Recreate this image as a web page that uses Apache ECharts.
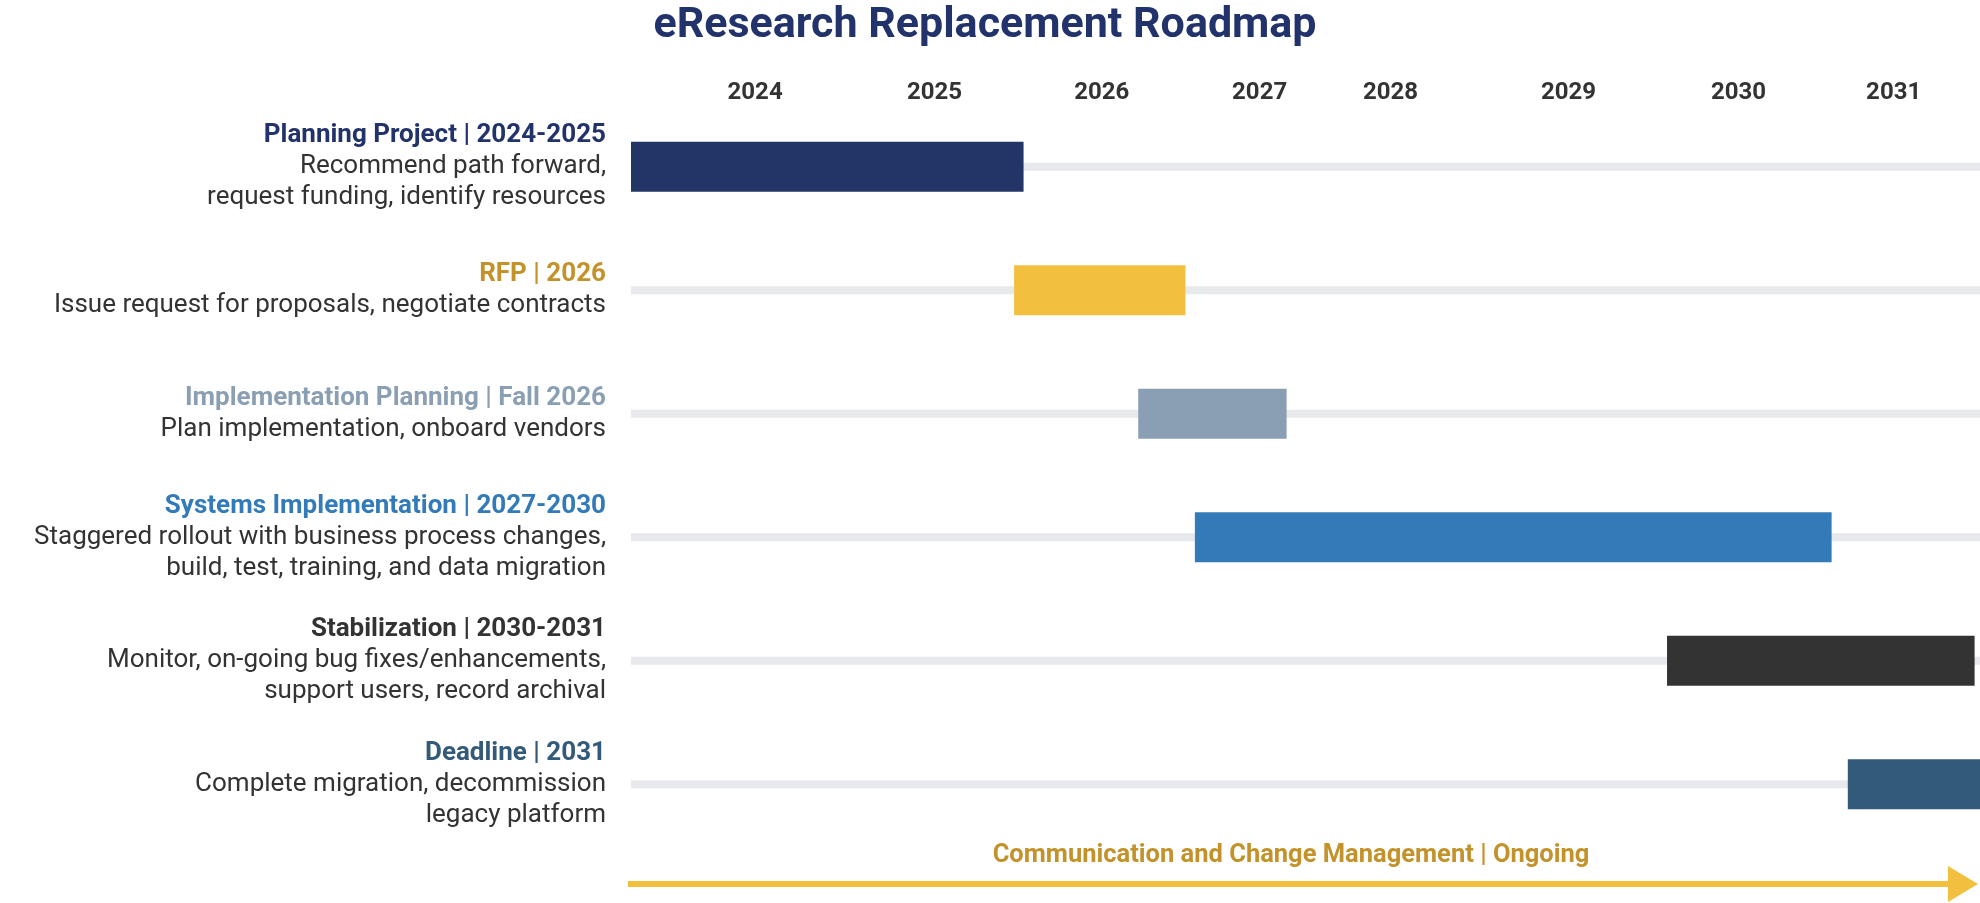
<!DOCTYPE html>
<html>
<head>
<meta charset="utf-8">
<script src="https://cdn.jsdelivr.net/npm/echarts@6/dist/echarts.min.js"></script>
<style>
  html, body { margin: 0; padding: 0; background: #fff; }
  #chart { width: 1980px; height: 903px; }
</style>
</head>
<body>
<div id="chart"></div>
<script>
// timeline runs 0..100 across the plot; years sit at uneven spots like the original
const phases = ['Planning Project | 2024-2025', 'RFP | 2026', 'Implementation Planning | Fall 2026',
  'Systems Implementation | 2027-2030', 'Stabilization | 2030-2031', 'Deadline | 2031'];
const details = [
  ['Recommend path forward,', 'request funding, identify resources'],
  ['Issue request for proposals, negotiate contracts'],
  ['Plan implementation, onboard vendors'],
  ['Staggered rollout with business process changes,', 'build, test, training, and data migration'],
  ['Monitor, on-going bug fixes/enhancements,', 'support users, record archival'],
  ['Complete migration, decommission', 'legacy platform']
];
const starts = [0, 28.4, 37.6, 41.8, 76.8, 90.2];
const ends = [29.1, 41.1, 48.6, 89, 99.6, 100];
const years = ['2024', '2025', '2026', '2027', '2028', '2029', '2030', '2031'];
const yearPos = [9.2, 22.5, 34.9, 46.6, 56.3, 69.5, 82.1, 93.6];
const barColors = ['#233466', '#f3bf3f', '#8a9fb3', '#337ab9', '#333333', '#335a78'];
const titleColors = ['#22336b', '#c4922a', '#8a9fb3', '#337ab9', '#333333', '#335a78'];

const chart = echarts.init(document.getElementById('chart'));

function rangeItem(h) {
  return function (params, api) {
    const cat = api.value(0);
    const s = api.coord([api.value(1), cat]);
    const e = api.coord([api.value(2), cat]);
    const shape = echarts.graphic.clipRectByRect(
      { x: s[0], y: s[1] - h / 2, width: e[0] - s[0], height: h },
      { x: params.coordSys.x, y: params.coordSys.y, width: params.coordSys.width, height: params.coordSys.height }
    );
    return shape && { type: 'rect', shape: shape, style: api.style() };
  };
}

const rich = {};
titleColors.forEach((c, i) => {
  rich['t' + i] = { color: c, fontWeight: 'bold', fontSize: 26, lineHeight: 31, align: 'right', fontFamily: 'Roboto' };
});
rich.d = { color: '#333', fontSize: 26, lineHeight: 31, align: 'right', fontFamily: 'Roboto' };

chart.setOption({
  animation: false,
  title: {
    text: 'eResearch Replacement Roadmap',
    left: 980, top: 0, textAlign: 'center',
    textStyle: { fontFamily: 'Roboto', fontSize: 43, fontWeight: 'bold', color: '#22336b' }
  },
  grid: { left: 631, right: 0, top: 105, bottom: 57 },
  xAxis: {
    type: 'value', position: 'top', min: 0, max: 100,
    splitLine: { show: false }, axisLine: { show: false }, axisTick: { show: false },
    axisLabel: {
      customValues: yearPos, margin: 0,
      formatter: v => years[yearPos.indexOf(v)] || '',
      fontFamily: 'Roboto', fontSize: 24, fontWeight: 'bold', color: '#333'
    }
  },
  yAxis: {
    type: 'category', inverse: true, data: phases,
    axisLine: { show: false }, axisTick: { show: false }, splitLine: { show: false },
    axisLabel: {
      margin: 25, rich: rich,
      formatter: (v, i) => '{t' + i + '|' + v + '}\n' + details[i].map(l => '{d|' + l + '}').join('\n')
    }
  },
  series: [
    {
      type: 'custom', renderItem: rangeItem(8), silent: true,
      itemStyle: { color: '#e8e9ed' },
      encode: { x: [1, 2], y: 0 },
      data: phases.map((p, i) => [i, 0, 100])
    },
    {
      type: 'custom', renderItem: rangeItem(50),
      encode: { x: [1, 2], y: 0 },
      data: phases.map((p, i) => ({ value: [i, starts[i], ends[i]], itemStyle: { color: barColors[i] } }))
    }
  ],
  graphic: [
    { type: 'line', shape: { x1: 628, y1: 884, x2: 1952, y2: 884 }, style: { stroke: '#f3bf3f', lineWidth: 6 } },
    { type: 'polygon', shape: { points: [[1948, 866], [1978, 884], [1948, 902]] }, style: { fill: '#f3bf3f' } },
    { type: 'text', x: 1291, y: 856, style: {
        text: 'Communication and Change Management | Ongoing', align: 'center', verticalAlign: 'middle',
        fill: '#c4922a', font: 'bold 25.5px Roboto' } }
  ]
});
</script>
</body>
</html>
